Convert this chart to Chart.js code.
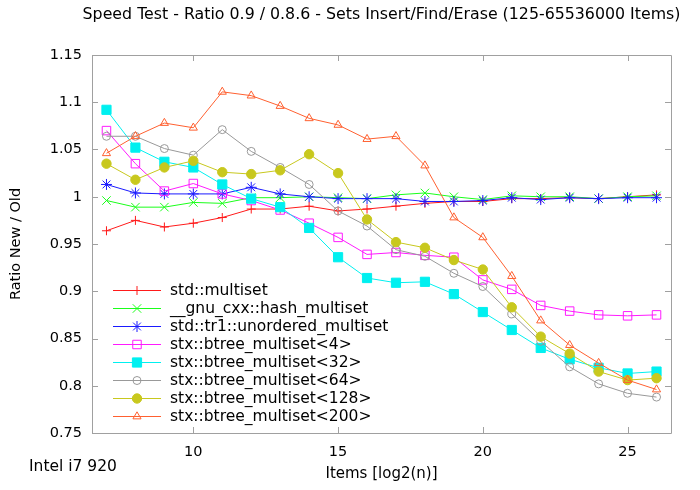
<!DOCTYPE html>
<html>
<head>
<meta charset="utf-8">
<script src="https://cdn.jsdelivr.net/npm/chart.js@4/dist/chart.umd.min.js"></script>
<style>
  html, body { margin: 0; padding: 0; background: #fff; }
  #wrap { width: 700px; height: 490px; }
</style>
</head>
<body>
<div id="wrap"><canvas id="speedChart"></canvas></div>
<script>
Chart.defaults.font.family = "'DejaVu Sans', sans-serif";
Chart.defaults.font.size = 14;
Chart.defaults.color = "#000";

const chartTitle = "Speed Test - Ratio 0.9 / 0.8.6 - Sets Insert/Find/Erase (125-65536000 Items)";

// x = log2(items)
const log2Items = [7, 8, 9, 10, 11, 12, 13, 14, 15, 16, 17, 18, 19, 20, 21, 22, 23, 24, 25, 26];
const xTickValues = [10, 15, 20, 25];
const yTickValues = [0.75, 0.8, 0.85, 0.9, 0.95, 1, 1.05, 1.1, 1.15];

const seriesNames = [
  "std::multiset", "__gnu_cxx::hash_multiset", "std::tr1::unordered_multiset",
  "stx::btree_multiset<4>", "stx::btree_multiset<32>", "stx::btree_multiset<64>",
  "stx::btree_multiset<128>", "stx::btree_multiset<200>"
];

const stdMultiset      = [0.964, 0.975, 0.968, 0.972, 0.978, 0.987, 0.987, 0.990, 0.985, 0.987, 0.990, 0.993, 0.995, 0.995, 0.998, 0.998, 0.999, 0.998, 1.000, 1.002];
const gnuHashMultiset  = [0.996, 0.989, 0.989, 0.994, 0.993, 0.999, 0.999, 1.000, 0.999, 0.998, 1.002, 1.004, 1.000, 0.997, 1.001, 1.000, 1.000, 0.998, 1.000, 1.001];
const tr1Unordered     = [1.013, 1.004, 1.003, 1.003, 1.003, 1.010, 1.003, 1.000, 0.998, 0.998, 0.998, 0.995, 0.995, 0.996, 0.999, 0.997, 0.999, 0.998, 0.999, 0.999];
const btree4           = [1.070, 1.035, 1.006, 1.014, 1.003, 0.996, 0.986, 0.972, 0.957, 0.939, 0.941, 0.938, 0.936, 0.912, 0.902, 0.885, 0.879, 0.875, 0.874, 0.875];
const btree32          = [1.092, 1.052, 1.037, 1.031, 1.013, 0.998, 0.989, 0.967, 0.936, 0.914, 0.909, 0.910, 0.897, 0.878, 0.859, 0.840, 0.828, 0.819, 0.813, 0.815];
const btree64          = [1.064, 1.064, 1.051, 1.044, 1.071, 1.048, 1.031, 1.013, 0.985, 0.969, 0.944, 0.937, 0.919, 0.905, 0.876, 0.847, 0.820, 0.802, 0.792, 0.788];
const btree128         = [1.035, 1.018, 1.031, 1.038, 1.026, 1.024, 1.028, 1.045, 1.025, 0.976, 0.952, 0.946, 0.933, 0.923, 0.883, 0.852, 0.834, 0.815, 0.806, 0.808];
const btree200         = [1.046, 1.064, 1.078, 1.073, 1.111, 1.107, 1.096, 1.083, 1.076, 1.061, 1.064, 1.033, 0.978, 0.957, 0.916, 0.869, 0.843, 0.824, 0.806, 0.796];

const seriesValues = [stdMultiset, gnuHashMultiset, tr1Unordered, btree4, btree32, btree64, btree128, btree200];
const seriesColors = ["#ff1a1a", "#1aff1a", "#1a1aff", "#ff1aff", "#00f0f0", "#999999", "#c8c81e", "#ff6030"];
const seriesPoints = ["cross", "crossRot", "star", "rect", "rect", "circle", "circle", "triangle"];
const seriesFilled = [false, false, false, false, true, false, true, false];
const seriesRadius = [4.5, 6, 5.5, 6, 6.5, 4, 4.7, 4.7];

const datasets = seriesNames.map((name, i) => ({
  label: name,
  data: log2Items.map((x, j) => ({ x: x, y: seriesValues[i][j] })),
  borderColor: seriesColors[i],
  backgroundColor: seriesFilled[i] ? seriesColors[i] : "rgba(255,255,255,0)",
  pointBorderColor: seriesColors[i],
  pointBackgroundColor: seriesFilled[i] ? seriesColors[i] : "rgba(255,255,255,0)",
  pointStyle: seriesPoints[i],
  pointRadius: seriesRadius[i],
  pointHoverRadius: seriesRadius[i],
  pointBorderWidth: 1,
  borderWidth: 1,
  tension: 0,
  fill: false,
  order: seriesNames.length - i
}));

// gnuplot style box with inward ticks on all four sides
const frameTicks = {
  id: "frameTicks",
  afterDatasetsDraw(chart) {
    const { ctx, chartArea: a, scales } = chart;
    ctx.save();
    ctx.strokeStyle = "#a0a0a0";
    ctx.lineWidth = 1;
    ctx.beginPath();
    ctx.rect(a.left + 0.5, a.top + 0.5, a.right - a.left, a.bottom - a.top);
    xTickValues.forEach(v => {
      const px = Math.round(scales.x.getPixelForValue(v)) + 0.5;
      ctx.moveTo(px, a.bottom); ctx.lineTo(px, a.bottom - 6);
      ctx.moveTo(px, a.top); ctx.lineTo(px, a.top + 6);
    });
    yTickValues.forEach(v => {
      const py = Math.round(scales.y.getPixelForValue(v)) + 0.5;
      ctx.moveTo(a.left, py); ctx.lineTo(a.left + 6, py);
      ctx.moveTo(a.right, py); ctx.lineTo(a.right - 6, py);
    });
    ctx.stroke();
    ctx.restore();
  }
};

// title centred over the plot, key inside the plot (lower left), machine label
const insideKey = {
  id: "insideKey",
  afterDraw(chart) {
    const { ctx, chartArea: a } = chart;
    ctx.save();
    ctx.fillStyle = "#000";
    ctx.font = "15.8px 'DejaVu Sans', sans-serif";
    ctx.textBaseline = "middle";
    ctx.textAlign = "center";
    ctx.fillText(chartTitle, (a.left + a.right) / 2, 15);

    const x0 = 113, x1 = 161, textX = 170, y0 = 290, step = 18;
    chart.data.datasets.forEach((ds, i) => {
      const y = y0 + i * step;
      ctx.strokeStyle = ds.borderColor;
      ctx.lineWidth = 1;
      ctx.beginPath();
      ctx.moveTo(x0, y + 0.5); ctx.lineTo(x1, y + 0.5);
      ctx.stroke();
      ctx.fillStyle = ds.pointBackgroundColor;
      ctx.strokeStyle = ds.pointBorderColor;
      Chart.helpers.drawPoint(ctx, { pointStyle: ds.pointStyle, radius: ds.pointRadius, borderWidth: 1, rotation: 0 }, (x0 + x1) / 2, y + 0.5);
      ctx.fillStyle = "#000";
      ctx.font = "15.5px 'DejaVu Sans', sans-serif";
      ctx.textAlign = "left";
      ctx.fillText(ds.label, textX, y + 1);
    });
    ctx.font = "15.5px 'DejaVu Sans', sans-serif";
    ctx.textAlign = "left";
    ctx.fillText("Intel i7 920", 29, 467);
    ctx.restore();
  }
};

new Chart(document.getElementById("speedChart"), {
  type: "line",
  data: { datasets: datasets },
  options: {
    responsive: true, maintainAspectRatio: false,
    animation: false,
    layout: { padding: { top: 55, right: 29, bottom: 0, left: 0 } },
    plugins: {
      legend: { display: false },
      tooltip: { enabled: false },
      title: { display: false }
    },
    scales: {
      x: {
        type: "linear",
        min: 6.5, max: 26.5,
        grid: { display: false, drawTicks: false },
        border: { display: false },
        afterBuildTicks: s => { s.ticks = xTickValues.map(v => ({ value: v })); },
        afterFit: s => { s.height = 57; },
        ticks: { padding: 11, color: "#000", font: { size: 14.5 }, callback: v => String(v) },
        title: { display: true, text: "Items [log2(n)]", color: "#000", font: { size: 15 }, padding: { top: 0, bottom: 7 } }
      },
      y: {
        type: "linear",
        min: 0.75, max: 1.15,
        grid: { display: false, drawTicks: false },
        border: { display: false },
        afterBuildTicks: s => { s.ticks = yTickValues.map(v => ({ value: v })); },
        afterFit: s => { s.width = 92; },
        ticks: { padding: 10, color: "#000", font: { size: 14.5 }, callback: v => String(+v.toFixed(2)) },
        title: { display: true, text: "Ratio New / Old", color: "#000", font: { size: 14.5 }, padding: { top: 7.3, bottom: 0 } }
      }
    }
  },
  plugins: [frameTicks, insideKey]
});
</script>
</body>
</html>
